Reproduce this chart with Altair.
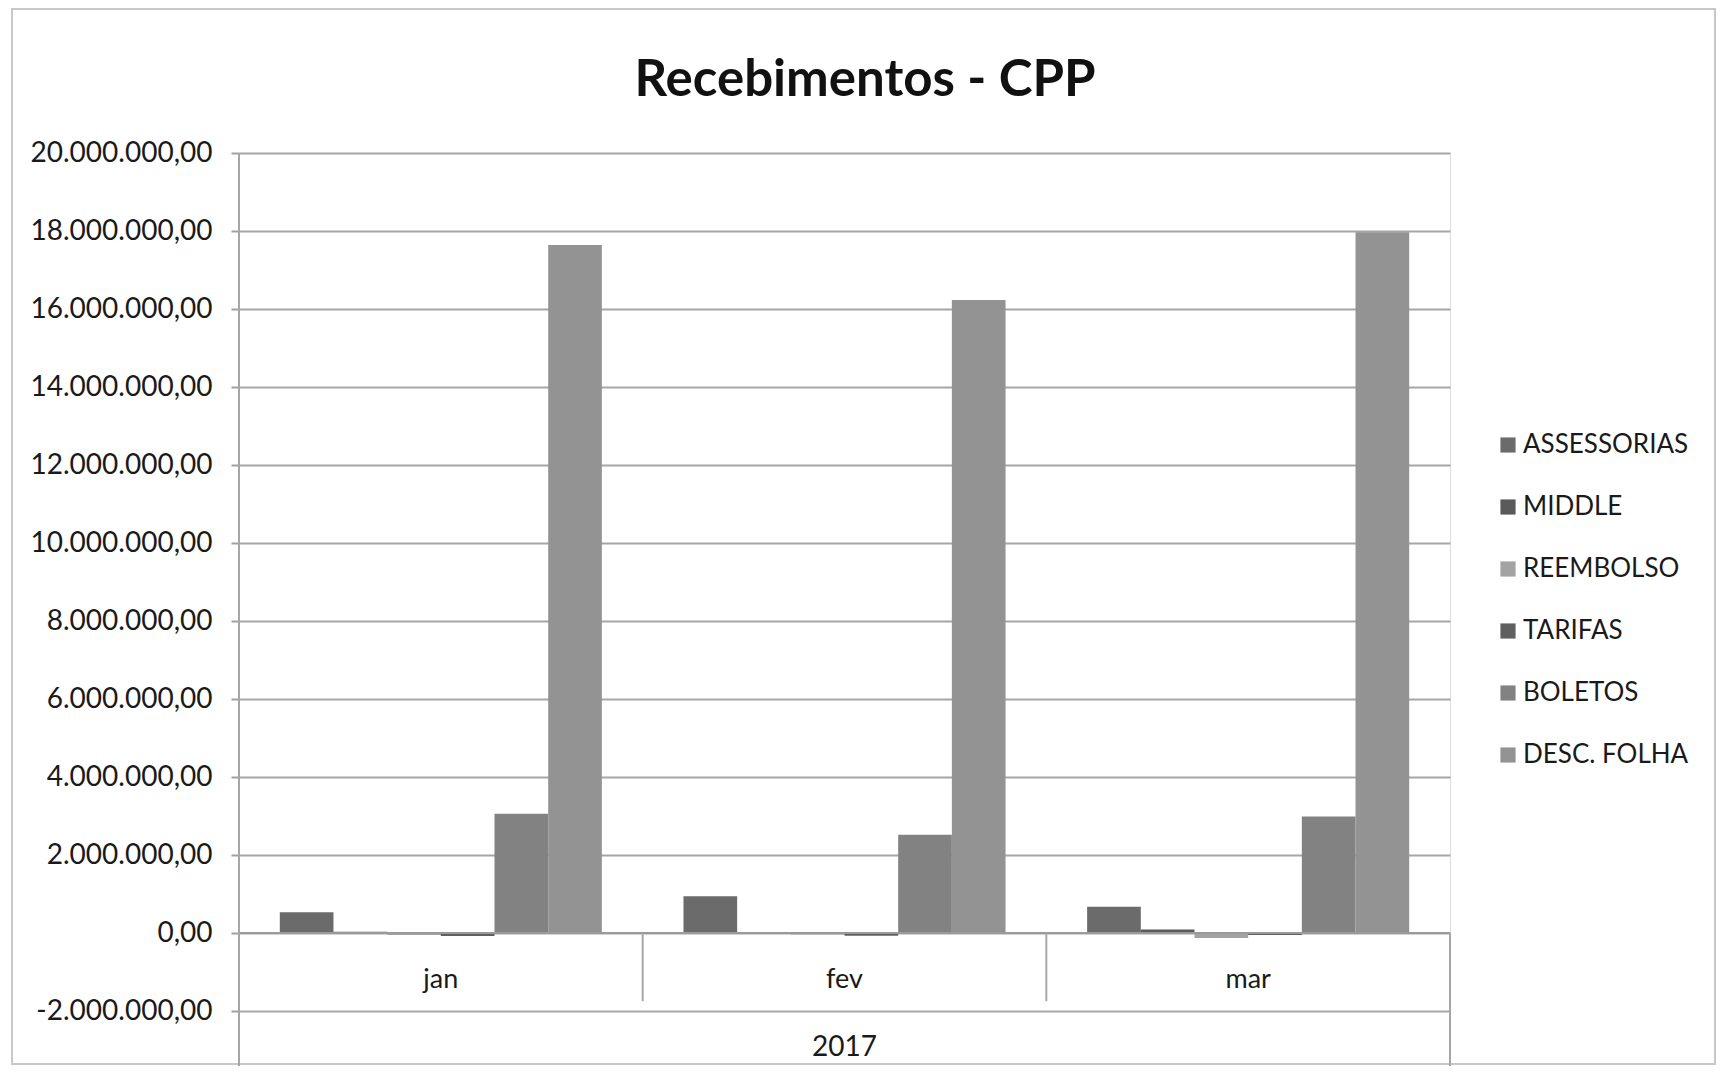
import altair as alt
import pandas as pd

title_text = "Recebimentos - CPP"
months = ["jan", "fev", "mar"]
series = ["ASSESSORIAS", "MIDDLE", "REEMBOLSO", "TARIFAS", "BOLETOS", "DESC. FOLHA"]
assessorias = [530000, 940000, 670000]
middle = [30000, 20000, 90000]
reembolso = [-50000, -40000, -130000]
tarifas = [-80000, -70000, -50000]
boletos = [3060000, 2520000, 2990000]
desc_folha = [17640000, 16230000, 17970000]
colors = ["#6b6b6b", "#5a5a5a", "#a3a3a3", "#606060", "#828282", "#939393"]
y_ticks = list(range(-2000000, 20000001, 2000000))
year_label = "2017"

vals = [assessorias, middle, reembolso, tarifas, boletos, desc_folha]
rows = []
for s, v in zip(series, vals):
    for m, x in zip(months, v):
        rows.append({"month": m, "series": s, "value": x})
df = pd.DataFrame(rows)

FONT = "Lato"
W, H = 1211, 858
TXT = "#1a1a1a"

yscale = alt.Scale(domain=[-2000000, 20000000], nice=False, zero=False)
xscale = alt.Scale(domain=months, paddingInner=0, paddingOuter=0)

label_expr = ("replace(replace(replace(replace(format(datum.value, ',.2f'), regexp(',', 'g'), '#'), "
              "regexp('\\\\.', 'g'), ','), regexp('#', 'g'), '.'), '\u2212', '-')")

bars = alt.Chart(df).mark_bar(clip=False).encode(
    x=alt.X("month:N", scale=xscale, sort=months,
            axis=alt.Axis(title=None, labels=False, ticks=False, domain=False, grid=False)),
    xOffset=alt.XOffset("series:N", sort=series,
                        scale=alt.Scale(paddingOuter=0.76, paddingInner=0)),
    y=alt.Y("value:Q", scale=yscale,
            axis=alt.Axis(title=None, values=y_ticks, labelExpr=label_expr,
                          labelFont=FONT, labelFontSize=28, labelColor=TXT, labelLimit=400,
                          labelPadding=19, tickSize=8, tickColor="#a0a0a0", tickWidth=2,
                          domain=False, grid=True, gridColor="#a6a6a6", gridWidth=2)),
    color=alt.Color("series:N", sort=series,
                    scale=alt.Scale(domain=series, range=colors),
                    legend=alt.Legend(title=None, orient="none", legendX=1256, legendY=279,
                                      symbolType="square", symbolSize=230,
                                      symbolStrokeWidth=0, labelFont=FONT,
                                      labelFontSize=26, labelColor=TXT,
                                      rowPadding=36, labelOffset=2, labelLimit=400)),
)

mdf = pd.DataFrame({"month": months, "lab": months, "ypos": [-1200000] * 3})
month_text = alt.Chart(mdf).mark_text(font=FONT, fontSize=27, color=TXT,
                                      baseline="middle").encode(
    x=alt.X("month:N", scale=xscale, sort=months),
    y=alt.Y("ypos:Q", scale=yscale),
    text="lab:N",
)

ydf = pd.DataFrame({"month": ["fev"], "lab": [year_label], "ypos": [-2950000]})
year_text = alt.Chart(ydf).mark_text(font=FONT, fontSize=28, color=TXT,
                                     baseline="middle").encode(
    x=alt.X("month:N", scale=xscale, sort=months),
    y=alt.Y("ypos:Q", scale=yscale),
    text="lab:N",
)

ddf = pd.DataFrame({"month": ["fev", "mar"], "y0": [0, 0], "y1": [-1750000, -1750000]})
dividers = alt.Chart(ddf).mark_rule(color="#a6a6a6", strokeWidth=2).encode(
    x=alt.X("month:N", scale=xscale, sort=months, bandPosition=0),
    y=alt.Y("y0:Q", scale=yscale),
    y2="y1:Q",
)

zdf = pd.DataFrame({"z": [0]})
zero_line = alt.Chart(zdf).mark_rule(color="#9a9a9a", strokeWidth=2).encode(
    x=alt.value(0), x2=alt.value(W), y=alt.Y("z:Q", scale=yscale))

edf = pd.DataFrame({"a": [20000000], "b": [-3450000]})
left_line = alt.Chart(edf).mark_rule(color="#a6a6a6", strokeWidth=2, clip=False).encode(
    x=alt.value(0), y=alt.Y("a:Q", scale=yscale), y2="b:Q")
rdf = pd.DataFrame({"a": [0], "b": [-3450000]})
right_line = alt.Chart(rdf).mark_rule(color="#a6a6a6", strokeWidth=2, clip=False).encode(
    x=alt.value(W), y=alt.Y("a:Q", scale=yscale), y2="b:Q")

frame = alt.Chart(zdf).mark_rect(fill=None, stroke="#c8c8c8", strokeWidth=2, clip=False).encode(
    x=alt.value(-227), x2=alt.value(1476), y=alt.value(-144), y2=alt.value(911))

tdf = pd.DataFrame({"t": [title_text]})
title = alt.Chart(tdf).mark_text(font=FONT, fontSize=51, fontWeight="bold", color="#111111",
                                 baseline="alphabetic", align="center").encode(
    x=alt.value(626), y=alt.value(-57), text="t:N")

chart = alt.layer(frame, bars, zero_line, dividers, left_line, right_line,
                  month_text, year_text, title).properties(
    width=W, height=H,
    autosize="none",
    padding={"left": 231, "top": 145, "right": 267, "bottom": 55},
).configure_view(stroke=None).configure(background="white")

chart.save("out.html", embed_options={"renderer": "svg", "actions": False})
